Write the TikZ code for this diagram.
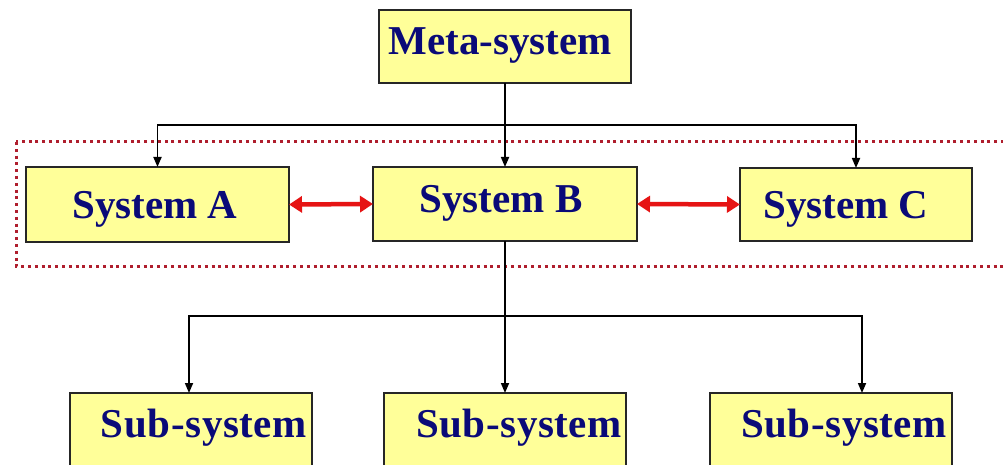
\documentclass[tikz,border=0pt]{standalone}
\usepackage{fontspec}
\setmainfont{Liberation Serif}
\newfontfamily\spacedserif[LetterSpace=1.5]{Liberation Serif}
\usetikzlibrary{arrows.meta}
\definecolor{boxfill}{RGB}{255,255,153}
\definecolor{navy}{RGB}{10,10,120}
\definecolor{frame}{RGB}{175,30,45}
\definecolor{arrred}{RGB}{230,20,20}
\tikzset{
  box/.style={draw=black!85, line width=1.8pt, fill=boxfill, anchor=north west, inner sep=0pt, outer sep=0pt},
  lbl/.style={anchor=base, text=navy, inner sep=0pt, font=\fontsize{41}{48}\selectfont\bfseries},
  sublbl/.style={lbl, font=\fontsize{41}{48}\selectfont\spacedserif\bfseries},
  conn/.style={line width=1.7pt, -{Triangle[length=10pt,width=8pt]}},
  link/.style={draw=arrred, line width=4.5pt, {Triangle[length=13pt,width=16pt]}-{Triangle[length=13pt,width=16pt]}},
  grp/.style={draw=frame, line width=3pt, dash pattern=on 3pt off 3.8pt}
}
\begin{document}
\begin{tikzpicture}[x=1pt,y=-1pt]
\useasboundingbox (0,0) rectangle (1003,465);
\clip (0,0) rectangle (1003,465);
\fill[white] (0,0) rectangle (1003,465);
% group frame
\draw[grp] (16,142) rectangle (1015,266);
% boxes
\node[box, minimum width=252pt, minimum height=73pt] (meta) at (379,10) {};
\node[box, minimum width=263pt, minimum height=75pt] (A) at (26,167) {};
\node[box, minimum width=264pt, minimum height=74pt] (B) at (373,167) {};
\node[box, minimum width=232pt, minimum height=73pt] (C) at (740,168) {};
\node[box, minimum width=242pt, minimum height=100pt] (s1) at (70,393) {};
\node[box, minimum width=242pt, minimum height=100pt] (s2) at (384,393) {};
\node[box, minimum width=242pt, minimum height=100pt] (s3) at (710,393) {};
% labels
\node[lbl] (tmeta) at (500,55) {Meta-system};
\node[lbl] (tA) at (155,218) {System A};
\node[lbl] (tB) at (501,212) {System B};
\node[lbl] (tC) at (846,218) {System C};
\node[sublbl] (ts1) at (204,437) {Sub-system};
\node[sublbl] (ts2) at (519,437) {Sub-system};
\node[sublbl] (ts3) at (844,437) {Sub-system};
% connectors
\coordinate (jt) at (505,125);
\coordinate (jb) at (505,316);
\draw[line width=1.7pt] (meta.south) -- (jt);
\draw[conn] (jt) -- (B.north);
\draw[conn] (jt) -| (A.north);
\draw[conn] (jt) -| (C.north);
\draw[line width=1.7pt] (B.south) -- (jb);
\draw[conn] (jb) -| ([xshift=-2pt]s1.north);
\draw[conn] (jb) -- (s2.north);
\draw[conn] (jb) -| ([xshift=31pt]s3.north);
\draw[link] (A.east) -- (B.west);
\draw[link] (B.east) -- (C.west);
\end{tikzpicture}
\end{document}
